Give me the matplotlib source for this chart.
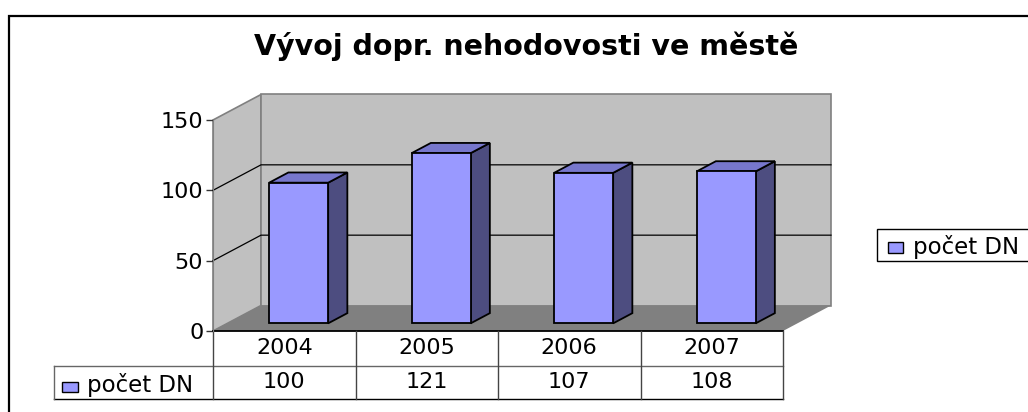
import matplotlib
matplotlib.use("Agg")
import matplotlib.pyplot as plt
from matplotlib.patches import Polygon, Rectangle

plt.rcParams['font.family'] = ['DejaVu Sans']

years = ['2004', '2005', '2006', '2007']
counts = [100, 121, 107, 108]
series_name = 'počet DN'
title = 'Vývoj dopr. nehodovosti ve městě'
y_ticks = [0, 50, 100, 150]

W, H = 1028, 412
WALL = '#C0C0C0'
FLOOR = '#808080'
FRONT = '#9999FF'
TOP = '#7777CC'
SIDE = '#4D4D80'

fig = plt.figure(figsize=(W / 100, H / 100), dpi=100, facecolor='white')

# pixel layer for frame, title and legend
page = fig.add_axes([0, 0, 1, 1], zorder=0)
page.set_xlim(0, W)
page.set_ylim(H, 0)
page.axis('off')

# front plane of the 3D box, 213..783 by 331..120 px
ax = fig.add_axes([213 / W, 1 - 331 / H, 570 / W, 211 / H], zorder=1)
ax.set_xlim(0, len(years))
ax.set_ylim(0, 150)
ax.patch.set_alpha(0)
for s in ['top', 'right', 'bottom']:
    ax.spines[s].set_visible(False)
ax.spines['left'].set_color('#808080')
ax.set_xticks([])
ax.set_yticks(y_ticks)
ax.tick_params(axis='y', length=5, width=1, color='#333333', labelsize=16, pad=2)

px_x = len(years) / 570
px_y = 150 / 211
DX, DY = 48 * px_x, 25.5 * px_y


def proj(x, y, d=0.0):
    return (x + d * DX, y + d * DY)


def poly(points, color, edge='none', lw=1.0, z=1):
    ax.add_patch(Polygon(points, closed=True, facecolor=color, edgecolor=edge,
                         linewidth=lw, clip_on=False, zorder=z))


n = len(years)
# walls and floor
poly([proj(0, 0), proj(0, 150), proj(0, 150, 1), proj(0, 0, 1)], WALL, '#808080', 1.2)
poly([proj(0, 0, 1), proj(0, 150, 1), proj(n, 150, 1), proj(n, 0, 1)], WALL, '#808080', 1.2)
poly([proj(0, 0), proj(0, 0, 1), proj(n, 0, 1), proj(n, 0)], FLOOR, z=1.5)

for v in y_ticks[1:-1]:
    ax.plot(*zip(proj(0, v), proj(0, v, 1), proj(n, v, 1)), color='black', lw=0.9,
            clip_on=False, zorder=2)

# bars
bar_w = 59 * px_x
d0, d1 = 0.30, 0.70
for i, v in enumerate(counts):
    x0 = i + 0.5 - bar_w / 2
    x1 = x0 + bar_w
    poly([proj(x1, 0, d0), proj(x1, 0, d1), proj(x1, v, d1), proj(x1, v, d0)], SIDE, 'black', 1.3, 3)
    poly([proj(x0, v, d0), proj(x0, v, d1), proj(x1, v, d1), proj(x1, v, d0)], TOP, 'black', 1.3, 3)
    poly([proj(x0, 0, d0), proj(x0, v, d0), proj(x1, v, d0), proj(x1, 0, d0)], FRONT, 'black', 1.3, 3)

# data table under the chart
row1 = -35 * px_y
row2 = -68 * px_y
table_left = -159 * px_x
ax.plot([0, n], [0, 0], color='black', lw=1.3, clip_on=False, zorder=2)
ax.plot([table_left, n], [row1, row1], color='#666666', lw=1.0, clip_on=False, zorder=2)
ax.plot([table_left, n], [row2, row2], color='black', lw=1.0, clip_on=False, zorder=2)
for i in range(n + 1):
    ax.plot([i, i], [0, row2], color='#444444', lw=1.0, clip_on=False, zorder=2)
ax.plot([table_left, table_left], [row1, row2], color='#666666', lw=1.0, clip_on=False)
for i in range(n):
    ax.text(i + 0.5, row1 / 2, years[i], ha='center', va='center', fontsize=16, clip_on=False)
    ax.text(i + 0.5, (row1 + row2) / 2, str(counts[i]), ha='center', va='center', fontsize=16,
            clip_on=False)

# outer frame runs off the picture on the right and bottom
page.plot([W, 9, 9], [16, 16, H], color='black', lw=1.6, solid_joinstyle='miter')
page.text(526, 46, title, ha='center', va='center', fontsize=20.5, fontweight='bold')

# table row label
page.add_patch(Rectangle((62, 382), 16, 10, facecolor=FRONT, edgecolor='black', lw=1))
page.text(87, 385, series_name, ha='left', va='center', fontsize=16.5)

# legend box
page.add_patch(Rectangle((877, 229), 170, 32, facecolor='white', edgecolor='black', lw=1))
page.add_patch(Rectangle((888, 242), 15, 11, facecolor=FRONT, edgecolor='black', lw=1))
page.text(913, 247, series_name, ha='left', va='center', fontsize=16.5)

fig.savefig('out.png', dpi=100, facecolor='white')
